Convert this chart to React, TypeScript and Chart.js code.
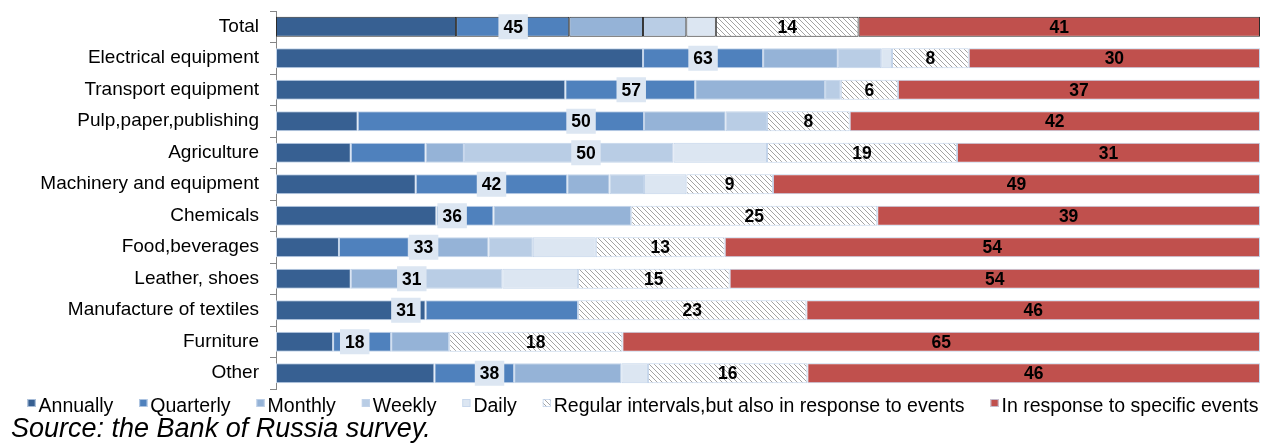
import React, { useEffect, useRef } from 'react';
import { Chart, registerables } from 'chart.js';

Chart.register(...registerables);

const categories = [
  'Total',
  'Electrical equipment',
  'Transport equipment',
  'Pulp,paper,publishing',
  'Agriculture',
  'Machinery and equipment',
  'Chemicals',
  'Food,beverages',
  'Leather, shoes',
  'Manufacture of textiles',
  'Furniture',
  'Other',
];

const seriesNames = [
  'Annually',
  'Quarterly',
  'Monthly',
  'Weekly',
  'Daily',
  'Regular intervals,but also in response to events',
  'In response to specific events',
];

const annually = [18.3, 37.3, 29.4, 8.3, 7.6, 14.2, 16.3, 6.4, 7.6, 15.2, 5.8, 16.1];
const quarterly = [11.5, 12.2, 13.2, 29.1, 7.6, 15.4, 5.8, 7.1, 0, 15.5, 5.9, 8.1];
const monthly = [7.5, 7.6, 13.2, 8.3, 3.9, 4.3, 14.0, 8.1, 6.1, 0, 5.9, 10.9];
const weekly = [4.4, 4.4, 1.6, 4.2, 21.3, 3.5, 0, 4.5, 9.3, 0, 0, 0];
const daily = [3.0, 1.1, 0, 0, 9.5, 4.3, 0, 6.4, 7.7, 0, 0, 2.7];
const regular = [14.5, 7.8, 5.8, 8.4, 19.3, 8.8, 25.0, 13.1, 15.4, 23.2, 17.6, 16.2];
const response = [40.8, 29.6, 36.8, 41.7, 30.8, 49.5, 38.9, 54.4, 53.9, 46.1, 64.8, 46.0];

// printed labels
const blueLabels = [45, 63, 57, 50, 50, 42, 36, 33, 31, 31, 18, 38];
const blueLabelAt = [24.1, 43.4, 36.1, 31.0, 31.5, 21.9, 17.9, 15.0, 13.8, 13.2, 8.0, 21.7];
const regularLabels = [14, 8, 6, 8, 19, 9, 25, 13, 15, 23, 18, 16];
const responseLabels = [41, 30, 37, 42, 31, 49, 39, 54, 54, 46, 65, 46];

const seriesValues = [annually, quarterly, monthly, weekly, daily, regular, response];
const seriesColors = ['#376092', '#4F81BD', '#95B3D7', '#B9CDE5', '#DCE6F2', 'HATCH', '#C0504D'];

const FONT = '"Liberation Sans", Arial, sans-serif';

function makeHatch(): CanvasPattern | string {
  const s = 5;
  const c = document.createElement('canvas');
  c.width = s;
  c.height = s;
  const g = c.getContext('2d');
  if (!g) return '#ddd';
  g.fillStyle = '#ffffff';
  g.fillRect(0, 0, s, s);
  g.strokeStyle = '#a3a3a3';
  g.lineWidth = 1;
  for (const k of [-s, 0, s]) {
    g.beginPath();
    g.moveTo(k, 0);
    g.lineTo(k + s, s);
    g.stroke();
  }
  const p = g.createPattern(c, 'repeat');
  return p || '#ddd';
}

export default function App() {
  const canvasRef = useRef<HTMLCanvasElement | null>(null);

  useEffect(() => {
    document.body.style.margin = '0';
    document.body.style.overflow = 'hidden';
    const canvas = canvasRef.current;
    if (!canvas) return;
    const hatch = makeHatch();

    const datasets = seriesNames.map((name, si) => ({
      label: name,
      data: seriesValues[si].map((v) => (v === 0 ? null : v)),
      backgroundColor: seriesColors[si] === 'HATCH' ? hatch : seriesColors[si],
      borderColor: (ctx: any) => (ctx.dataIndex === 0 ? '#2b2b2b' : '#C3D4EA'),
      borderWidth: 1,
      borderSkipped: false,
      categoryPercentage: 1,
      barPercentage: 0.64,
    }));

    const labelPlugin = {
      id: 'valueLabels',
      afterDatasetsDraw(chart: any) {
        const ctx = chart.ctx as CanvasRenderingContext2D;
        const xs = chart.scales.x;
        const ys = chart.scales.y;
        ctx.save();
        ctx.font = `bold 17.5px ${FONT}`;
        ctx.textAlign = 'center';
        ctx.textBaseline = 'middle';
        categories.forEach((_, i) => {
          const y = ys.getPixelForValue(i);
          const blueSum = annually[i] + quarterly[i] + monthly[i] + weekly[i] + daily[i];
          const bx = xs.getPixelForValue(blueLabelAt[i]);
          const t = String(blueLabels[i]);
          const w = ctx.measureText(t).width + 10;
          ctx.fillStyle = '#DCE6F2';
          ctx.fillRect(bx - w / 2, y - 12.5, w, 25);
          ctx.fillStyle = '#000';
          ctx.fillText(t, bx, y + 1);
          const rx = xs.getPixelForValue(blueSum + regular[i] / 2);
          ctx.fillText(String(regularLabels[i]), rx, y + 1);
          const ex = xs.getPixelForValue(blueSum + regular[i] + response[i] / 2);
          ctx.fillText(String(responseLabels[i]), ex, y + 1);
        });
        ctx.restore();
      },
    };

    const legendPlugin = {
      id: 'customLegend',
      afterDraw(chart: any) {
        const ctx = chart.ctx as CanvasRenderingContext2D;
        ctx.save();
        ctx.font = `19.5px ${FONT}`;
        ctx.textBaseline = 'alphabetic';
        ctx.textAlign = 'left';
        const box = 8;
        const gapBox = 3;
        const gapItem = 26;
        const widths = seriesNames.map((n) => box + gapBox + ctx.measureText(n).width);
        const total = widths.reduce((a, b) => a + b, 0) + gapItem * (widths.length - 1);
        let x = 643 - total / 2;
        const baseY = chart.chartArea.bottom + 23;
        seriesNames.forEach((n, i) => {
          const ds = chart.data.datasets[i];
          ctx.fillStyle = ds.backgroundColor;
          ctx.fillRect(x, baseY - 13, box, box);
          ctx.strokeStyle = '#C3D4EA';
          ctx.lineWidth = 0.8;
          ctx.strokeRect(x + 0.4, baseY - 12.6, box - 0.8, box - 0.8);
          ctx.fillStyle = '#000';
          ctx.fillText(n, x + box + gapBox, baseY);
          x += widths[i] + gapItem;
        });
        ctx.restore();
      },
    };

    const chart = new Chart(canvas, {
      type: 'bar',
      data: { labels: categories, datasets: datasets as any },
      options: {
        indexAxis: 'y',
        animation: false,
        responsive: false,
        devicePixelRatio: 1,
        layout: { padding: { top: 11, right: 7, bottom: 56, left: 0 } },
        plugins: {
          legend: { display: false },
          tooltip: { enabled: false },
        },
        scales: {
          x: { display: false, stacked: true, min: 0, max: 100 },
          y: {
            stacked: true,
            grid: {
              display: true,
              drawOnChartArea: false,
              offset: true,
              tickLength: 6,
              color: '#868686',
              tickColor: '#868686',
            },
            border: { display: true, color: '#868686', width: 1 },
            ticks: {
              color: '#000',
              font: { family: FONT, size: 19 },
              padding: 11,
              autoSkip: false,
            },
            afterFit: (s: any) => {
              s.width = 276;
              s.paddingTop = 0;
              s.paddingBottom = 0;
            },
          },
        },
      },
      plugins: [labelPlugin, legendPlugin],
    });

    return () => {
      chart.destroy();
    };
  }, []);

  return (
    <div style={{ position: 'relative', width: 1267, height: 445, background: '#fff' }}>
      <canvas ref={canvasRef} width={1267} height={445} style={{ display: 'block' }} />
      <div
        style={{
          position: 'absolute',
          left: 11,
          top: 413,
          fontFamily: FONT,
          fontStyle: 'italic',
          fontSize: 27,
          lineHeight: 'normal',
          color: '#000',
          whiteSpace: 'nowrap',
        }}
      >
        Source: the Bank of Russia survey.
      </div>
    </div>
  );
}
